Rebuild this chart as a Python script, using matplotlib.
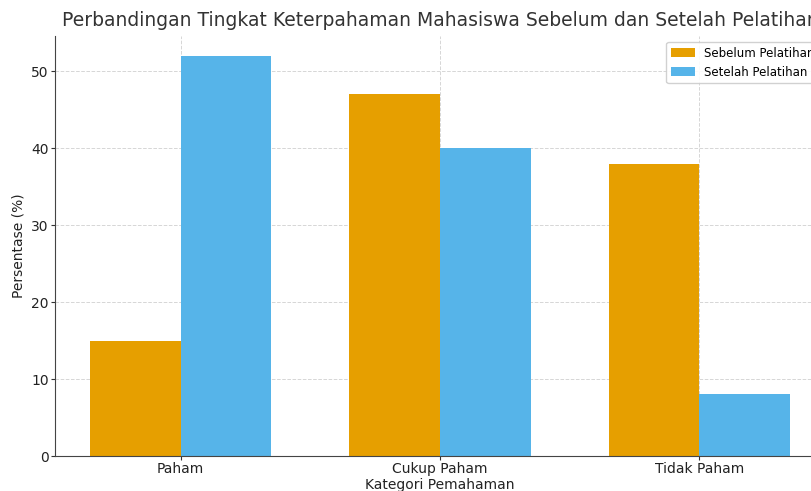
import numpy as np
import matplotlib
matplotlib.use("Agg")
import matplotlib.pyplot as plt

categories = ["Paham", "Cukup Paham", "Tidak Paham"]
sebelum = [15, 47, 38]
setelah = [52, 40, 8]

x = np.arange(len(categories))
width = 0.35

fig = plt.figure(figsize=(8.12, 4.91), dpi=100)
# the source image is cropped on the right, so the axes run past the figure edge
ax = fig.add_axes([55 / 812, 1 - 456 / 491, 770 / 812, 420 / 491])

ax.bar(x - width / 2, sebelum, width, color="#E69F00", label="Sebelum Pelatihan")
ax.bar(x + width / 2, setelah, width, color="#56B4E9", label="Setelah Pelatihan")

ax.set_xticks(x)
ax.set_xticklabels(categories, fontsize=10)
ax.tick_params(axis="both", labelsize=10, length=3, pad=1.5,
               colors="#333333", labelcolor="#222222")
ax.set_xlabel("Kategori Pemahaman", fontsize=10, labelpad=1, color="#222222")
ax.set_ylabel("Persentase (%)", fontsize=10, labelpad=4, color="#222222")
ax.set_title("Perbandingan Tingkat Keterpahaman Mahasiswa Sebelum dan Setelah Pelatihan",
             fontsize=13.5, color="#333333", pad=7)

ax.set_axisbelow(True)
ax.grid(True, linestyle="--", linewidth=0.7, color="#cccccc", alpha=0.8)
for s in ("top", "right"):
    ax.spines[s].set_visible(False)
ax.spines["left"].set_color("#444444")
ax.spines["bottom"].set_color("#444444")

ax.legend(loc="upper right", fontsize=8.5, framealpha=0.9)

fig.savefig("out.png", dpi=100)
